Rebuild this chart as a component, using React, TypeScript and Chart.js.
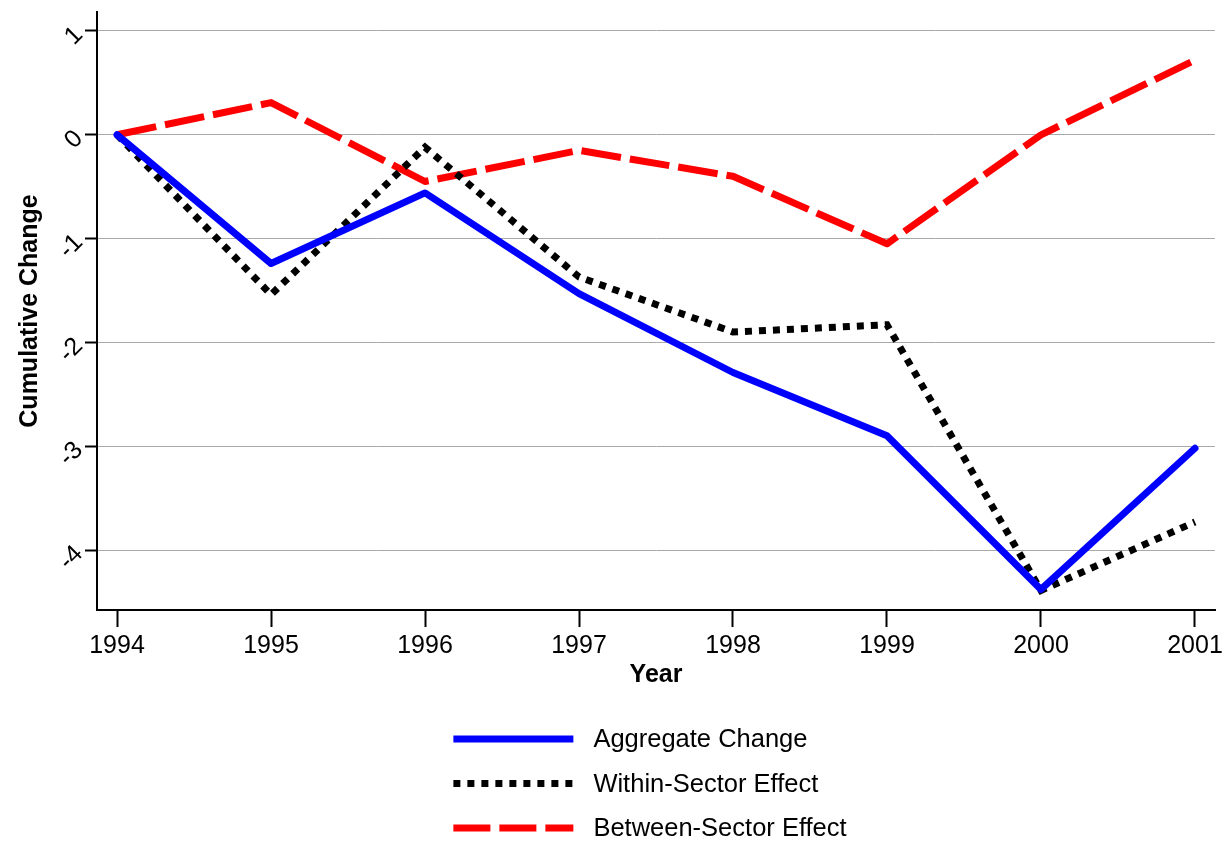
import React, { useEffect, useRef } from "react";
import { Chart, registerables } from "chart.js";

Chart.register(...registerables);

const years = [1994, 1995, 1996, 1997, 1998, 1999, 2000, 2001];
const aggregateChange = [0, -1.24, -0.56, -1.53, -2.29, -2.9, -4.38, -3.02];
const withinSectorEffect = [0, -1.54, -0.12, -1.37, -1.9, -1.83, -4.39, -3.73];
const betweenSectorEffect = [0, 0.31, -0.45, -0.15, -0.4, -1.05, 0.0, 0.72];
const yTickValues = [-4, -3, -2, -1, 0, 1];
const seriesLabels = ["Aggregate Change", "Within-Sector Effect", "Between-Sector Effect"];
const xTitle = "Year";
const yTitle = "Cumulative Change";

const FONT = "'Liberation Sans', Arial, Helvetica, sans-serif";

const legendPlugin = {
  id: "stackedLegend",
  afterDraw(chart: any) {
    const ctx = chart.ctx;
    const area = chart.chartArea;
    const datasets = chart.data.datasets;
    ctx.save();
    ctx.font = `25.5px ${FONT}`;
    let maxText = 0;
    datasets.forEach((d: any) => {
      maxText = Math.max(maxText, ctx.measureText(d.label).width);
    });
    const sampleW = 120;
    const gap = 20;
    const total = sampleW + gap + maxText;
    const left = (area.left + area.right) / 2 - 6 - total / 2;
    const baseY = chart.height - 116;
    const rowH = 44.5;
    datasets.forEach((d: any, i: number) => {
      const y = baseY + i * rowH;
      ctx.beginPath();
      ctx.strokeStyle = d.borderColor;
      ctx.lineWidth = d.borderWidth;
      ctx.setLineDash(d.legendDash || d.borderDash || []);
      ctx.lineCap = "butt";
      ctx.moveTo(left, y);
      ctx.lineTo(left + sampleW, y);
      ctx.stroke();
      ctx.setLineDash([]);
      ctx.fillStyle = "#000";
      ctx.textBaseline = "middle";
      ctx.textAlign = "left";
      ctx.fillText(d.label, left + sampleW + gap, y + 1);
    });
    ctx.restore();
  },
};

export default function App() {
  const canvasRef = useRef<HTMLCanvasElement | null>(null);

  useEffect(() => {
    const canvas = canvasRef.current;
    if (!canvas) return;
    const mk = (vals: number[]) => years.map((x, i) => ({ x, y: vals[i] }));
    const chart = new Chart(canvas, {
      type: "line",
      data: {
        datasets: [
          {
            label: seriesLabels[0],
            data: mk(aggregateChange),
            borderColor: "#0000ff",
            borderWidth: 7,
            borderCapStyle: "round",
            borderJoinStyle: "round",
            pointRadius: 0,
            tension: 0,
          },
          {
            label: seriesLabels[1],
            data: mk(withinSectorEffect),
            borderColor: "#000000",
            borderWidth: 7,
            borderDash: [7, 7],
            legendDash: [7, 7],
            borderCapStyle: "butt",
            borderJoinStyle: "miter",
            pointRadius: 0,
            tension: 0,
          },
          {
            label: seriesLabels[2],
            data: mk(betweenSectorEffect),
            borderColor: "#ff0000",
            borderWidth: 7,
            borderDash: [40, 9],
            legendDash: [37, 9],
            borderCapStyle: "butt",
            borderJoinStyle: "round",
            pointRadius: 0,
            tension: 0,
          } as any,
        ],
      },
      options: {
        animation: false,
        responsive: false,
        layout: { padding: { left: 0, top: 12, right: 17, bottom: 165 } },
        plugins: {
          legend: { display: false },
          tooltip: { enabled: false },
        },
        scales: {
          x: {
            type: "linear",
            min: 1993.87,
            max: 2001.13,
            afterBuildTicks: (scale: any) => {
              scale.ticks = years.map((v) => ({ value: v }));
            },
            afterFit: (scale: any) => {
              scale.height = 80;
              scale.paddingLeft = 0;
              scale.paddingRight = 0;
            },
            ticks: {
              font: { family: FONT, size: 25 },
              color: "#000",
              padding: 4,
              maxRotation: 0,
              minRotation: 0,
              callback: (v: any) => String(v),
            },
            grid: {
              drawOnChartArea: false,
              drawTicks: true,
              tickLength: 17,
              tickColor: "#000",
              tickWidth: 2,
            },
            border: { color: "#000", width: 2 },
            title: {
              display: true,
              text: xTitle,
              font: { family: FONT, size: 25, weight: "bold" },
              color: "#000",
              padding: { top: 0, bottom: 0 },
            },
          },
          y: {
            type: "linear",
            min: -4.578,
            max: 1.183,
            afterBuildTicks: (scale: any) => {
              scale.ticks = yTickValues.map((v) => ({ value: v }));
            },
            afterFit: (scale: any) => {
              scale.width = 97;
              scale.paddingTop = 0;
              scale.paddingBottom = 0;
            },
            ticks: {
              font: { family: FONT, size: 25 },
              color: "#000",
              padding: 6,
              minRotation: 45,
              maxRotation: 45,
              callback: (v: any) => String(v),
            },
            grid: {
              drawOnChartArea: true,
              color: "#a8a8a8",
              lineWidth: 1,
              drawTicks: true,
              tickLength: 12,
              tickColor: "#000",
              tickWidth: 2,
            },
            border: { color: "#000", width: 2 },
            title: {
              display: true,
              text: yTitle,
              font: { family: FONT, size: 25, weight: "bold" },
              color: "#000",
              padding: { top: 15, bottom: 0 },
            },
          },
        },
      },
      plugins: [legendPlugin],
    } as any);
    return () => chart.destroy();
  }, []);

  return (
    <div style={{ position: "absolute", left: 0, top: 0, width: 1232, height: 855, background: "#fff" }}>
      <canvas ref={canvasRef} width={1232} height={855} />
    </div>
  );
}
